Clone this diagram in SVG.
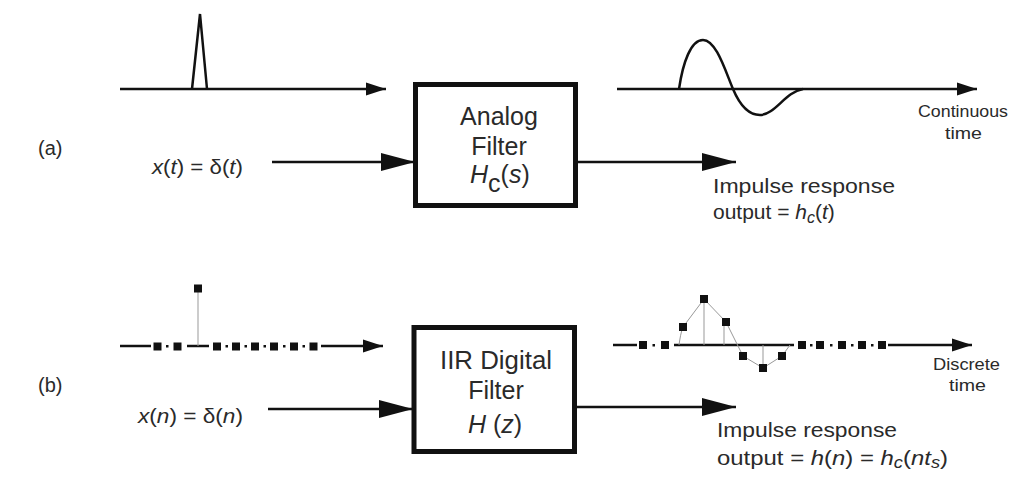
<svg xmlns="http://www.w3.org/2000/svg" width="1011" height="481" viewBox="0 0 1011 481">
<defs>
<style>
.ln{stroke:#111;stroke-width:2.5;fill:none}
.box{stroke:#111;stroke-width:5;fill:#fff}
.t{font-family:"Liberation Sans",Arial,sans-serif;fill:#2a2a2a}
.i{font-style:italic}
.sq{fill:#111}
.g{stroke:#999;stroke-width:1;fill:none}
</style>
<marker id="big" markerUnits="userSpaceOnUse" markerWidth="36" markerHeight="20" refX="34" refY="10" orient="auto">
<path d="M0,1 L34,10 L0,19 Z" fill="#111"/>
</marker>
<marker id="small" markerUnits="userSpaceOnUse" markerWidth="22" markerHeight="14" refX="20" refY="7" orient="auto">
<path d="M0,0.5 L20,7 L0,13.5 Z" fill="#111"/>
</marker>
</defs>
<rect width="1011" height="481" fill="#fff"/>

<text class="t" x="38" y="155" font-size="20">(a)</text>
<text class="t" x="38" y="392" font-size="20">(b)</text>

<g id="connectors">
<line class="ln" x1="272" y1="162" x2="415" y2="162" marker-end="url(#big)"/>
<line class="ln" x1="578" y1="162" x2="736" y2="162" marker-end="url(#big)"/>
<line class="ln" x1="268" y1="409" x2="413" y2="409" marker-end="url(#big)"/>
<line class="ln" x1="576" y1="407" x2="736" y2="407" marker-end="url(#big)"/>
</g>

<g id="input-a-plot">
<line class="ln" x1="120" y1="89" x2="386" y2="89" marker-end="url(#small)"/>
<polyline class="ln" points="192,89 200,14 207,89" stroke-linejoin="miter"/>
</g>

<g id="output-a-plot">
<line class="ln" x1="617" y1="89" x2="977" y2="89" marker-end="url(#small)"/>
<path class="ln" d="M679,89 C683,62 691,40 703,40 C716,40 725,70 733,89 C741,108 750,115 760,115 C775,115 785,92 803,89"/>
<text class="t" x="918" y="117" font-size="17" textLength="90" lengthAdjust="spacingAndGlyphs">Continuous</text>
<text class="t" x="945" y="139" font-size="17" textLength="37" lengthAdjust="spacingAndGlyphs">time</text>
</g>

<g id="input-a-label">
<text class="t" x="152" y="174" font-size="20" textLength="91" lengthAdjust="spacingAndGlyphs"><tspan class="i">x</tspan>(<tspan class="i">t</tspan>) = δ(<tspan class="i">t</tspan>)</text>
</g>

<g id="analog-filter">
<rect class="box" x="415.5" y="84.5" width="160" height="121"/>
<text class="t" x="499" y="125" font-size="25" text-anchor="middle">Analog</text>
<text class="t" x="499" y="155" font-size="25" text-anchor="middle">Filter</text>
<text class="t" x="470" y="183" font-size="25"><tspan class="i">H</tspan><tspan dy="9">c</tspan><tspan dy="-9">(</tspan><tspan class="i">s</tspan>)</text>
</g>

<g id="output-a-label">
<text class="t" x="713" y="193" font-size="21" textLength="182" lengthAdjust="spacingAndGlyphs">Impulse response</text>
<text class="t" x="713" y="219" font-size="21">output = <tspan class="i">h</tspan><tspan class="i" font-size="16" dy="4">c</tspan><tspan dy="-4">(</tspan><tspan class="i">t</tspan>)</text>
</g>

<g id="input-b-plot">
<line class="ln" x1="120" y1="346" x2="151" y2="346"/>
<line class="ln" x1="187" y1="346" x2="209" y2="346"/>
<line class="ln" x1="321" y1="346" x2="383" y2="346" marker-end="url(#small)"/>
<line class="g" x1="198" y1="291" x2="198" y2="346"/>
<g class="sq">
<rect x="153.5" y="342.5" width="8" height="8"/>
<rect x="173.5" y="342.5" width="8" height="8"/>
<rect x="194" y="284.5" width="8" height="8"/>
<rect x="213" y="342.5" width="8" height="8"/>
<rect x="232" y="342.5" width="8" height="8"/>
<rect x="251" y="342.5" width="8" height="8"/>
<rect x="270" y="342.5" width="8" height="8"/>
<rect x="290" y="342.5" width="8" height="8"/>
<rect x="309.5" y="342.5" width="8" height="8"/>
<rect x="166" y="345" width="2.5" height="2.5"/>
<rect x="225.5" y="345" width="2.5" height="2.5"/>
<rect x="244.5" y="345" width="2.5" height="2.5"/>
<rect x="263.5" y="345" width="2.5" height="2.5"/>
<rect x="283" y="345" width="2.5" height="2.5"/>
<rect x="302.5" y="345" width="2.5" height="2.5"/>
</g>
</g>

<g id="input-b-label">
<text class="t" x="138" y="423" font-size="20" textLength="105" lengthAdjust="spacingAndGlyphs"><tspan class="i">x</tspan>(<tspan class="i">n</tspan>) = δ(<tspan class="i">n</tspan>)</text>
</g>

<g id="iir-filter">
<rect class="box" x="414" y="327.5" width="160.5" height="124"/>
<text class="t" x="496" y="369" font-size="25" text-anchor="middle" textLength="112" lengthAdjust="spacingAndGlyphs">IIR Digital</text>
<text class="t" x="496" y="399" font-size="25" text-anchor="middle">Filter</text>
<text class="t" x="468" y="433" font-size="25"><tspan class="i">H</tspan> (<tspan class="i">z</tspan>)</text>
</g>

<g id="output-b-plot">
<line class="ln" x1="613" y1="345" x2="637" y2="345"/>
<line class="ln" x1="674" y1="345" x2="794" y2="345"/>
<line class="ln" x1="888" y1="345" x2="972" y2="345" marker-end="url(#small)"/>
<path class="g" d="M679,345 C680,338 681,332 683,327 L704,299 L726,322 L743,356 L763,368 L782,356 L790,345"/>
<line class="g" x1="704" y1="299" x2="704" y2="345"/>
<line class="g" x1="724" y1="322" x2="724" y2="345"/>
<line class="g" x1="763" y1="345" x2="763" y2="368"/>
<g class="sq">
<rect x="639" y="341" width="8" height="8"/>
<rect x="661" y="341" width="8" height="8"/>
<rect x="679" y="323" width="8" height="8"/>
<rect x="700" y="295" width="8" height="8"/>
<rect x="722" y="318" width="8" height="8"/>
<rect x="739" y="352" width="8" height="8"/>
<rect x="759" y="364" width="8" height="8"/>
<rect x="778" y="352" width="8" height="8"/>
<rect x="798" y="341" width="8" height="8"/>
<rect x="816" y="341" width="8" height="8"/>
<rect x="838" y="341" width="8" height="8"/>
<rect x="858" y="341" width="8" height="8"/>
<rect x="878" y="341" width="8" height="8"/>
<rect x="652.5" y="344" width="2.5" height="2.5"/>
<rect x="810" y="344" width="2.5" height="2.5"/>
<rect x="830" y="344" width="2.5" height="2.5"/>
<rect x="851" y="344" width="2.5" height="2.5"/>
<rect x="871" y="344" width="2.5" height="2.5"/>
</g>
<text class="t" x="933" y="370" font-size="17" textLength="67" lengthAdjust="spacingAndGlyphs">Discrete</text>
<text class="t" x="949" y="391" font-size="17" textLength="37" lengthAdjust="spacingAndGlyphs">time</text>
</g>

<g id="output-b-label">
<text class="t" x="717" y="437" font-size="21" textLength="180" lengthAdjust="spacingAndGlyphs">Impulse response</text>
<text class="t" x="717" y="465" font-size="21" textLength="231" lengthAdjust="spacingAndGlyphs">output = <tspan class="i">h</tspan>(<tspan class="i">n</tspan>) = <tspan class="i">h</tspan><tspan class="i" font-size="16" dy="3">c</tspan><tspan dy="-3">(</tspan><tspan class="i">nt</tspan><tspan class="i" font-size="16" dy="3">s</tspan><tspan dy="-3">)</tspan></text>
</g>
</svg>
